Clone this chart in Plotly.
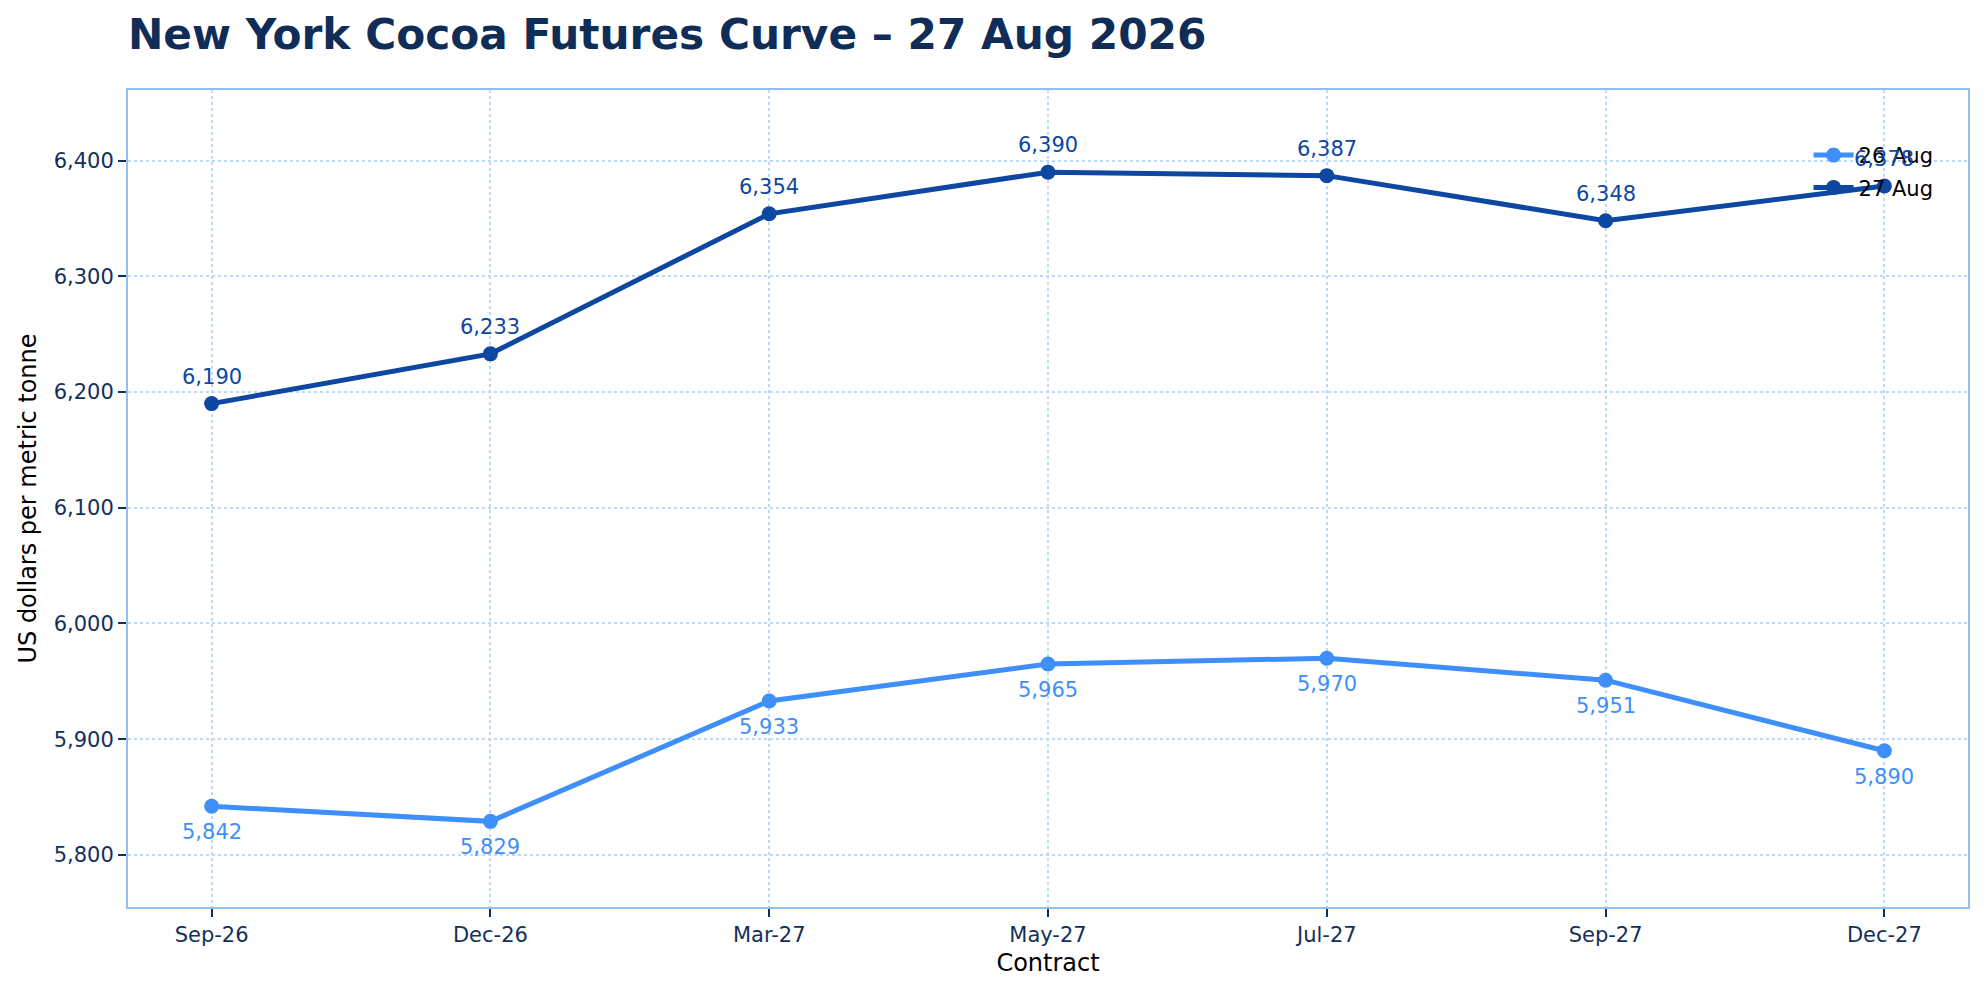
import plotly.graph_objects as go

contracts = ["Sep-26", "Dec-26", "Mar-27", "May-27", "Jul-27", "Sep-27", "Dec-27"]
aug26 = [5842, 5829, 5933, 5965, 5970, 5951, 5890]
aug27 = [6190, 6233, 6354, 6390, 6387, 6348, 6378]

c26 = "#3f8ffa"
c27 = "#0d47a1"
navy = "#13305a"
grid = "#bcd9f7"
border = "#93bfeb"
font = "DejaVu Sans"

W, H = 1976, 984  # page body has an 8px margin

fig = go.Figure()
fig.add_trace(go.Scatter(
    x=contracts, y=aug26, name="26 Aug", mode="lines+markers", legendgroup="a",
    line=dict(color=c26, width=5), marker=dict(color=c26, size=15),
))
fig.add_trace(go.Scatter(
    x=contracts, y=aug27, name="27 Aug", mode="lines+markers", legendgroup="b",
    line=dict(color=c27, width=5), marker=dict(color=c27, size=15),
))

annotations = []
for c, v in zip(contracts, aug26):
    annotations.append(dict(x=c, y=v, text=f"{v:,}", showarrow=False, yshift=-26,
                            font=dict(color=c26, size=21, family=font)))
for c, v in zip(contracts, aug27):
    annotations.append(dict(x=c, y=v, text=f"{v:,}", showarrow=False, yshift=27,
                            font=dict(color=c27, size=21, family=font)))

fig.update_layout(
    width=W, height=H,
    margin=dict(l=120, r=16, t=82, b=85),
    paper_bgcolor="white", plot_bgcolor="white",
    font=dict(family=font, size=21, color=navy),
    title=dict(text="<b>New York Cocoa Futures Curve – 27 Aug 2026</b>",
               x=0, xref="paper", xanchor="left",
               y=1 - 26 / H, yref="container", yanchor="middle",
               font=dict(family=font, size=42.25, color="#0f2d57")),
    legend=dict(x=0.984, xanchor="right", y=0.945, yanchor="top",
                bgcolor="rgba(0,0,0,0)", font=dict(size=21, color="black", family=font),
                itemwidth=40, tracegroupgap=2),
    showlegend=True,
    annotations=annotations,
)
fig.update_xaxes(
    type="category", range=[-0.3, 6.3],
    showline=True, mirror=True, linecolor=border, linewidth=2,
    showgrid=True, gridcolor=grid, griddash="dot", gridwidth=1.5,
    ticks="outside", ticklen=8, tickwidth=2, tickcolor=navy,
    tickfont=dict(size=21, color=navy, family=font),
    title=dict(text="Contract", font=dict(size=24, color="black", family=font), standoff=8),
    zeroline=False,
)
fig.update_yaxes(
    range=[5755, 6461], dtick=100, tickformat=",",
    showline=True, mirror=True, linecolor=border, linewidth=2,
    showgrid=True, gridcolor=grid, griddash="dot", gridwidth=1.5,
    ticks="outside", ticklen=8, tickwidth=2, tickcolor=navy,
    tickfont=dict(size=21, color=navy, family=font),
    title=dict(text="US dollars per metric tonne", font=dict(size=24, color="black", family=font), standoff=10),
    zeroline=False,
)

fig.write_html("out.html")
